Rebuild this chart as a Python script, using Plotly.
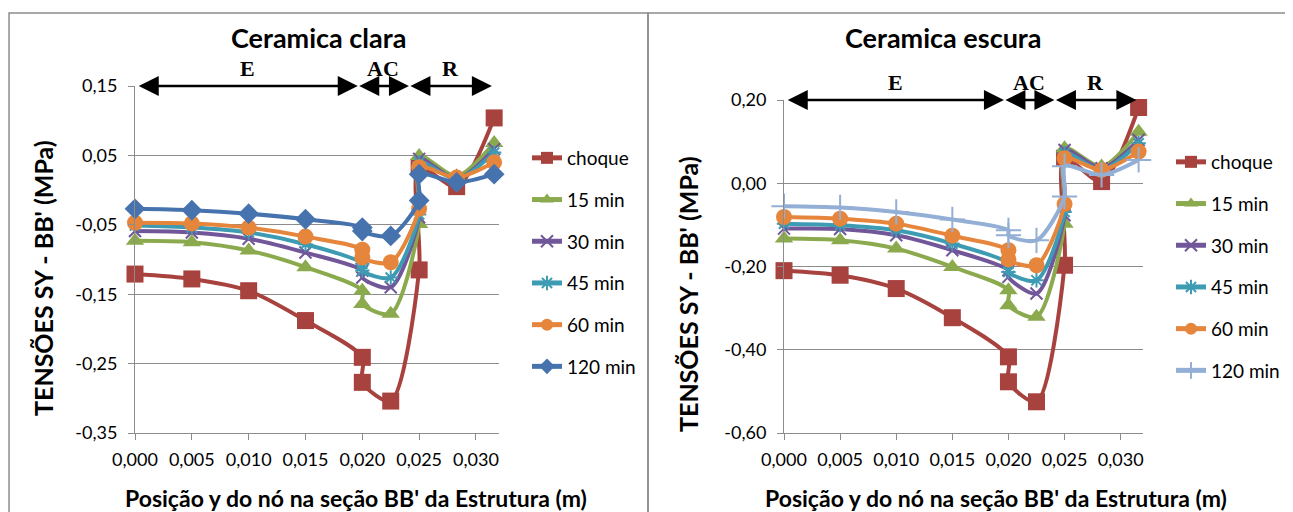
import plotly.graph_objects as go

# ---------------- data ----------------
x_pos = [0.000, 0.005, 0.010, 0.015, 0.020, 0.020, 0.0225, 0.025, 0.025, 0.0283, 0.0316]

series_names = ["choque", "15 min", "30 min", "45 min", "60 min", "120 min"]

clara_choque = [-0.121, -0.128, -0.145, -0.188, -0.241, -0.277, -0.304, -0.115, 0.033, 0.005, 0.104]
clara_15 = [-0.073, -0.075, -0.087, -0.111, -0.145, -0.164, -0.178, -0.049, 0.049, 0.020, 0.068]
clara_30 = [-0.059, -0.061, -0.070, -0.090, -0.116, -0.126, -0.140, -0.039, 0.045, 0.016, 0.059]
clara_45 = [-0.051, -0.054, -0.061, -0.078, -0.106, -0.116, -0.126, -0.035, 0.040, 0.016, 0.054]
clara_60 = [-0.047, -0.048, -0.054, -0.067, -0.086, -0.097, -0.104, -0.027, 0.033, 0.018, 0.040]
clara_120 = [-0.027, -0.029, -0.034, -0.042, -0.054, -0.059, -0.066, -0.015, 0.023, 0.011, 0.023]

escura_choque = [-0.210, -0.221, -0.253, -0.323, -0.417, -0.477, -0.525, -0.197, 0.060, 0.004, 0.182]
escura_15 = [-0.133, -0.137, -0.157, -0.201, -0.257, -0.293, -0.321, -0.097, 0.084, 0.040, 0.124]
escura_30 = [-0.109, -0.110, -0.125, -0.161, -0.209, -0.225, -0.265, -0.077, 0.080, 0.036, 0.104]
escura_45 = [-0.097, -0.101, -0.113, -0.145, -0.193, -0.213, -0.233, -0.069, 0.072, 0.032, 0.096]
escura_60 = [-0.081, -0.085, -0.097, -0.126, -0.161, -0.183, -0.197, -0.050, 0.060, 0.032, 0.076]
escura_120 = [-0.055, -0.058, -0.069, -0.087, -0.113, -0.125, -0.137, -0.032, 0.041, 0.020, 0.056]

x_ticks = [0.000, 0.005, 0.010, 0.015, 0.020, 0.025, 0.030]
x_tick_labels = ["0,000", "0,005", "0,010", "0,015", "0,020", "0,025", "0,030"]

clara_y_ticks = [0.15, 0.05, -0.05, -0.15, -0.25, -0.35]
clara_y_labels = ["0,15", "0,05", "-0,05", "-0,15", "-0,25", "-0,35"]
escura_y_ticks = [0.20, 0.00, -0.20, -0.40, -0.60]
escura_y_labels = ["0,20", "0,00", "-0,20", "-0,40", "-0,60"]

regions = [("E", 0.0002, 0.0196), ("AC", 0.0196, 0.0241), ("R", 0.0241, 0.0314)]

titles = ["Ceramica clara", "Ceramica escura"]
y_title = "TENSÕES SY - BB' (MPa)"
x_title = "Posição y do nó na seção BB' da Estrutura (m)"

# ---------------- styles ----------------
W, H = 1293, 512
OFF = 8  # page body margin
colors_clara = ["#A8423F", "#8BAA4E", "#71579A", "#3D9BB3", "#E6863C", "#4673AD"]
colors_escura = ["#A8423F", "#8BAA4E", "#71579A", "#3D9BB3", "#E6863C", "#93AFD5"]
symbols_clara = ["square", "triangle-up", "x-thin", "asterisk", "circle", "diamond"]
symbols_escura = ["square", "triangle-up", "x-thin", "asterisk", "circle", "cross-thin"]
sizes = [17, 16, 12, 12, 16, 16]
sizes_escura = [17, 16, 12, 12, 16, 18]

def px(x):
    return (x - OFF) / W

def py(y):
    return 1 - (y - OFF) / H

fig = go.Figure()

clara = [clara_choque, clara_15, clara_30, clara_45, clara_60, clara_120]
escura = [escura_choque, escura_15, escura_30, escura_45, escura_60, escura_120]

for i, (name, vals) in enumerate(zip(series_names, clara)):
    thin = symbols_clara[i] in ("x-thin", "asterisk", "cross-thin")
    fig.add_trace(go.Scatter(
        x=x_pos, y=vals, name=name, mode="lines+markers",
        line=dict(color=colors_clara[i], width=4, shape="spline", smoothing=0.8),
        marker=dict(symbol=symbols_clara[i], size=sizes[i], color=colors_clara[i],
                    line=dict(color=colors_clara[i], width=2 if thin else 0)),
        xaxis="x", yaxis="y", legend="legend", legendgroup="a%d" % i,
        cliponaxis=False,
    ))

for i, (name, vals) in enumerate(zip(series_names, escura)):
    thin = symbols_escura[i] in ("x-thin", "asterisk", "cross-thin")
    fig.add_trace(go.Scatter(
        x=x_pos, y=vals, name=name, mode="lines+markers",
        line=dict(color=colors_escura[i], width=4, shape="spline", smoothing=0.8),
        marker=dict(symbol=symbols_escura[i], size=sizes_escura[i], color=colors_escura[i],
                    line=dict(color=colors_escura[i], width=2 if thin else 0)),
        xaxis="x2", yaxis="y2", legend="legend2", legendgroup="b%d" % i,
        cliponaxis=False,
    ))

grid = "#8C8C8C"
tickfont = dict(family="Lato, Open Sans, sans-serif", size=18, color="#000")

def xaxis_cfg(domain):
    return dict(domain=domain, range=[0, 0.032], tickvals=x_ticks, ticktext=x_tick_labels,
                showgrid=False, zeroline=False, showline=True, linecolor=grid, linewidth=1,
                ticks="outside", ticklen=6, tickcolor=grid, tickfont=tickfont, automargin=False,
                ticklabelstandoff=4, fixedrange=True)

def yaxis_cfg(domain, rng, tv, tt, anchor):
    return dict(domain=domain, range=rng, tickvals=tv, ticktext=tt, anchor=anchor,
                showgrid=True, gridcolor=grid, gridwidth=1, zeroline=False,
                showline=True, linecolor=grid, linewidth=1, automargin=False,
                ticks="outside", ticklen=6, tickcolor=grid, tickfont=tickfont,
                ticklabelstandoff=7, fixedrange=True)

left_x = [px(135), px(498.7)]
right_x = [px(784), px(1143.1)]

legfont = dict(family="Lato, sans-serif", size=19, color="#000")

fig.update_layout(
    template="none",
    width=W, height=H, margin=dict(l=0, r=0, t=0, b=0, pad=0, autoexpand=False),
    paper_bgcolor="white", plot_bgcolor="white",
    xaxis=dict(xaxis_cfg(left_x), anchor="y"),
    yaxis=yaxis_cfg([py(433), py(86)], [-0.35, 0.15], clara_y_ticks, clara_y_labels, "x"),
    xaxis2=dict(xaxis_cfg(right_x), anchor="y2"),
    yaxis2=yaxis_cfg([py(433), py(100)], [-0.60, 0.20], escura_y_ticks, escura_y_labels, "x2"),
    legend=dict(x=px(527), y=py(139), xanchor="left", yanchor="top", bgcolor="rgba(0,0,0,0)",
                font=legfont, tracegroupgap=14, itemsizing="constant"),
    legend2=dict(x=px(1171), y=py(143), xanchor="left", yanchor="top", bgcolor="rgba(0,0,0,0)",
                 font=legfont, tracegroupgap=14, itemsizing="constant"),
    showlegend=True,
)

# chart titles
for t, cx in zip(titles, [318, 943]):
    fig.add_annotation(text="<b>%s</b>" % t, x=px(cx), y=py(37), xref="paper", yref="paper",
                       xanchor="center", yanchor="middle", showarrow=False,
                       font=dict(family="Lato, sans-serif", size=27, color="#000"))

# axis titles
for cx in [356, 996]:
    fig.add_annotation(text="<b>%s</b>" % x_title, x=px(cx), y=py(498), xref="paper", yref="paper",
                       xanchor="center", yanchor="middle", showarrow=False,
                       font=dict(family="Lato, sans-serif", size=23, color="#000"))
for cx, cy in [(43, 278), (688, 294)]:
    fig.add_annotation(text="<b>%s</b>" % y_title, x=px(cx), y=py(cy), xref="paper", yref="paper",
                       xanchor="center", yanchor="middle", showarrow=False, textangle=-90,
                       font=dict(family="Lato, sans-serif", size=25, color="#000"))

# region arrows and labels
for xa, ya, ytop in [("x", "y", 0.15), ("x2", "y2", 0.20)]:
    for lab, x0, x1 in regions:
        fig.add_annotation(x=x1, y=ytop, ax=x0, ay=ytop, xref=xa, yref=ya, axref=xa, ayref=ya,
                           text="", showarrow=True, arrowhead=2, startarrowhead=2,
                           arrowside="end+start", arrowsize=1.6, startarrowsize=1.6,
                           arrowwidth=2.5, arrowcolor="#000")
        fig.add_annotation(x=(x0 + x1) / 2, y=ytop, xref=xa, yref=ya, text="<b>%s</b>" % lab,
                           showarrow=False, xanchor="center", yanchor="bottom", yshift=3,
                           font=dict(family="Liberation Serif, serif", size=22, color="#000"))

# chart borders
border = dict(color="#8C8C8C", width=1.5)
fig.add_shape(type="rect", xref="paper", yref="paper", x0=0.0008, x1=px(648), y0=py(530), y1=py(13), line=border)
fig.add_shape(type="rect", xref="paper", yref="paper", x0=px(648), x1=px(1290), y0=py(530), y1=py(13), line=border)

fig.write_html("out.html")
